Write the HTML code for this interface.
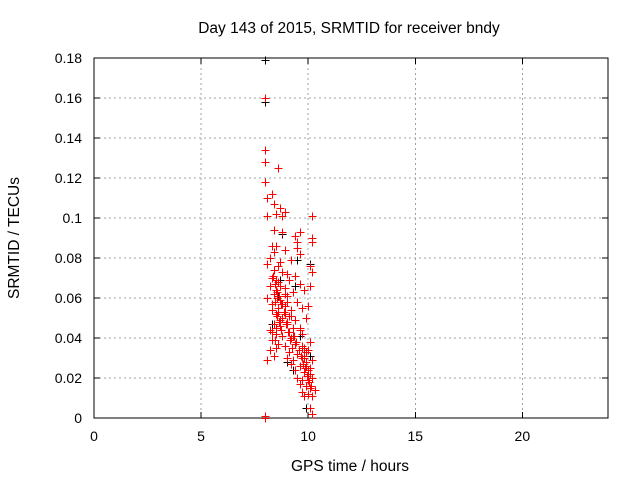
<!DOCTYPE html>
<html><head><meta charset="utf-8"><style>
body{margin:0;background:#fff}
svg text{font-family:"Liberation Sans",sans-serif;font-size:14px;fill:#000}
</style></head><body>
<svg id="chart" width="640" height="480" xmlns="http://www.w3.org/2000/svg" shape-rendering="crispEdges">
<rect width="640" height="480" fill="#fff"/>
<g id="grid"></g>
<g id="axes"></g>
<g id="pts"></g>
<text x="349" y="33" text-anchor="middle" style="font-size:15.5px">Day 143 of 2015, SRMTID for receiver bndy</text>
<text x="350" y="471" text-anchor="middle" style="font-size:15.5px">GPS time / hours</text>
<text x="0" y="0" text-anchor="middle" style="font-size:15.5px" transform="translate(19,238) rotate(-90)">SRMTID / TECUs</text>
</svg>
<script>
const xTicks=[0,5,10,15,20];
const yTicks=[0,0.02,0.04,0.06,0.08,0.1,0.12,0.14,0.16,0.18];
const yTickLabels=["0","0.02","0.04","0.06","0.08","0.1","0.12","0.14","0.16","0.18"];
const redHours=[8.0,8.0,8.0,8.0,8.3,8.6,8.1,8.4,8.7,8.9,8.1,8.5,8.8,10.2,8.4,8.8,9.6,10.2,10.2,9.4,9.5,8.3,8.5,8.9,9.5,9.6,8.2,8.7,9.2,10.1,8.1,8.4,8.8,9.0,9.4,10.2,8.3,8.6,9.1,9.6,8.2,8.5,8.9,9.3,9.8,10.1,8.1,8.4,8.7,9.0,9.5,8.3,8.6,8.9,9.2,9.7,10.0,8.5,8.8,9.1,9.4,9.9,8.4,8.7,9.0,9.3,9.6,8.2,8.5,8.8,9.2,9.7,10.1,8.3,8.6,8.9,9.4,9.8,8.2,8.5,9.1,9.5,10.0,8.1,8.4,9.0,9.3,9.7,10.2,9.2,9.6,9.9,10.1,9.4,9.8,10.0,9.5,9.7,10.2,9.6,9.9,10.1,9.7,10.0,10.3,9.8,10.2,10.1,10.2,8.0,8.0,8.6,8.7,8.5,9.0,9.1,8.9,9.3,8.8,9.9,9.8,9.7,10.0,
8.3,8.45,8.55,8.65,8.75,8.35,8.45,8.55,8.65,8.75,8.85,8.95,9.05,9.15,9.25,9.35,9.45,9.55,9.65,9.75,9.85,9.95,10.05,10.15,9.8,9.9,10.0,10.1,9.7,9.6,8.4,8.6,8.5,8.7,8.9,9.0,9.2,8.3,8.45,8.55];
const redValues=[0.160,0.134,0.128,0.118,0.112,0.125,0.110,0.107,0.105,0.103,0.101,0.102,0.101,0.101,0.094,0.093,0.093,0.090,0.088,0.091,0.088,0.086,0.086,0.084,0.085,0.082,0.080,0.078,0.079,0.076,0.077,0.074,0.073,0.072,0.071,0.073,0.070,0.068,0.069,0.067,0.066,0.064,0.065,0.063,0.064,0.066,0.060,0.062,0.059,0.061,0.058,0.057,0.055,0.056,0.054,0.055,0.056,0.052,0.050,0.051,0.049,0.050,0.047,0.046,0.048,0.045,0.044,0.044,0.042,0.041,0.040,0.042,0.038,0.039,0.037,0.036,0.037,0.035,0.034,0.035,0.033,0.032,0.034,0.029,0.031,0.030,0.029,0.030,0.029,0.027,0.026,0.028,0.025,0.024,0.023,0.022,0.020,0.019,0.020,0.017,0.016,0.015,0.013,0.012,0.014,0.011,0.011,0.005,0.002,0.000,0.001,0.053,0.049,0.045,0.047,0.043,0.052,0.041,0.057,0.033,0.031,0.036,0.024,
0.054,0.058,0.051,0.048,0.044,0.071,0.067,0.063,0.061,0.057,0.053,0.047,0.043,0.039,0.035,0.041,0.038,0.034,0.031,0.027,0.025,0.021,0.018,0.016,0.030,0.026,0.019,0.022,0.035,0.045,0.083,0.076,0.069,0.066,0.062,0.058,0.051,0.043,0.039,0.060];
const blackHours=[8.0,8.0,8.8,9.5,10.1,8.7,9.4,8.3,9.0,9.3,9.9,10.1,8.6,9.6];
const blackValues=[0.179,0.158,0.092,0.079,0.077,0.069,0.066,0.047,0.028,0.024,0.005,0.031,0.061,0.041];
const L=94,R=608,T=58,B=418,XMAX=24,YMAX=0.18;
const sx=v=>L+(R-L)*v/XMAX, sy=v=>B-(B-T)*v/YMAX;
const NS="http://www.w3.org/2000/svg";
function mk(tag,attrs,parent){const e=document.createElementNS(NS,tag);for(const k in attrs)e.setAttribute(k,attrs[k]);parent.appendChild(e);return e;}
const grid=document.getElementById('grid'),axes=document.getElementById('axes'),pts=document.getElementById('pts');
xTicks.forEach(t=>{const x=sx(t);
 if(t>0){const g=mk('line',{x1:x,x2:x,y1:T,y2:B,stroke:'#a0a0a0','stroke-dasharray':'2,3'},grid);
 
 }
 mk('line',{x1:x,x2:x,y1:B,y2:B-6,stroke:'#000'},axes);mk('line',{x1:x,x2:x,y1:T,y2:T+6,stroke:'#000'},axes);
 const tx=mk('text',{x:x,y:B+23,'text-anchor':'middle'},axes);tx.textContent=t;
 
 });
yTicks.forEach((t,i)=>{const y=sy(t);
 if(t>0&&t<YMAX){const g=mk('line',{x1:L,x2:R,y1:y,y2:y,stroke:'#a0a0a0','stroke-dasharray':'2,3'},grid);
 
 }
 mk('line',{x1:L,x2:L+6,y1:y,y2:y,stroke:'#000'},axes);mk('line',{x1:R,x2:R-6,y1:y,y2:y,stroke:'#000'},axes);
 const tx=mk('text',{x:L-12,y:y+5,'text-anchor':'end'},axes);tx.textContent=yTickLabels[i];
 
 });
const fr=mk('rect',{x:L,y:T,width:R-L,height:B-T,fill:'none',stroke:'#000'},axes);


function plus(h,v,c,name){const x=Math.round(sx(h))+0.5,y=Math.round(sy(v))+0.5;
 const p=mk('path',{d:`M${x-4} ${y}H${x+4}M${x} ${y-4}V${y+4}`,stroke:c,'stroke-width':1,fill:'none'},pts);
 
 }
blackHours.forEach((h,i)=>plus(h,blackValues[i],'#000','black-point'));
redHours.forEach((h,i)=>plus(h,redValues[i],'#f00','red-point'));
</script>
</body></html>
